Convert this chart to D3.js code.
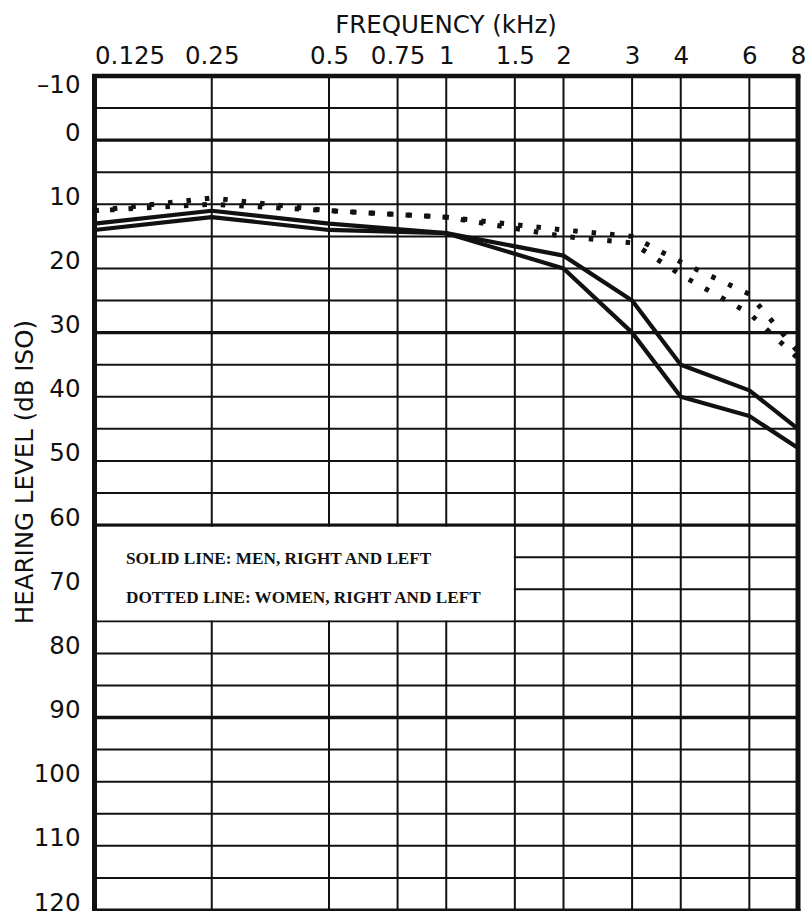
<!DOCTYPE html>
<html>
<head>
<meta charset="utf-8">
<script src="https://cdn.jsdelivr.net/npm/d3@7/dist/d3.min.js"></script>
<style>
  html, body { margin: 0; padding: 0; background: #fff; }
  svg { display: block; }
</style>
</head>
<body>
<svg id="chart" width="809" height="911"></svg>
<script>
// ---- data ----
const freqs = [0.125, 0.25, 0.5, 1, 2, 3, 4, 6, 8];
const menUpper = [13, 11, 13, 14.5, 18, 25, 35, 39, 45];
const menLower = [14, 12, 14, 14.5, 20, 30, 40, 43, 48];
const womenUpper = [11, 9, 11, 12, 14, 15, 19, 24, 33];
const womenLower = [11, 10, 11, 12, 15, 16, 21, 27, 34];

const freqTicks = [0.125, 0.25, 0.5, 0.75, 1, 1.5, 2, 3, 4, 6, 8];
const freqTickLabels = ["0.125", "0.25", "0.5", "0.75", "1", "1.5", "2", "3", "4", "6", "8"];
const levelTicks = [-10, 0, 10, 20, 30, 40, 50, 60, 70, 80, 90, 100, 110, 120];
const levelTickLabels = ["\u201310", "0", "10", "20", "30", "40", "50", "60", "70", "80", "90", "100", "110", "120"];
const majorLevels = [0, 30, 60, 90];
const xTitle = "FREQUENCY (kHz)";
const yTitle = "HEARING LEVEL (dB ISO)";
const legendLines = ["SOLID LINE: MEN, RIGHT AND LEFT", "DOTTED LINE: WOMEN, RIGHT AND LEFT"];

(function () {
// ---- layout ----
const svg = d3.select("#chart");
const pLeft = 94.5, pRight = 798, pTop = 76, pBottom = 910;
const x = d3.scaleLog().base(2).domain([0.125, 8]).range([pLeft, pRight]);
const y = d3.scaleLinear().domain([-10, 120]).range([pTop, pBottom]);
const ink = "#111";
const sans = "'DejaVu Sans', sans-serif";

svg.append("rect").attr("width", 809).attr("height", 911).attr("fill", "#fff");

const grid = svg.append("g");
const hLevels = d3.range(-5, 120, 5);
grid.selectAll("line.h").data(hLevels).enter().append("line")
  .attr("x1", pLeft).attr("x2", pRight)
  .attr("y1", d => y(d)).attr("y2", d => y(d))
  .attr("stroke", ink)
  .attr("stroke-width", d => majorLevels.includes(d) ? 3.4 : 2);
const vFreqs = freqTicks.filter(f => f > 0.125 && f < 8);
grid.selectAll("line.v").data(vFreqs).enter().append("line")
  .attr("x1", d => x(d)).attr("x2", d => x(d))
  .attr("y1", pTop).attr("y2", pBottom)
  .attr("stroke", ink).attr("stroke-width", 2);

// legend box (white, hides the grid)
const legendBox = svg.append("g");
legendBox.append("rect")
  .attr("x", pLeft + 1)
  .attr("y", y(60) + 1.8)
  .attr("width", x(1.5) - pLeft - 2)
  .attr("height", y(75) - y(60) - 2.8)
  .attr("fill", "#fff");
legendBox.selectAll("text").data(legendLines).enter().append("text")
  .attr("x", 126)
  .attr("y", (d, i) => i === 0 ? 563.5 : 602.5)
  .attr("font-family", "'Liberation Serif', 'Times New Roman', serif")
  .attr("font-weight", "bold")
  .attr("font-size", 17.2)
  .attr("fill", ink)
  .text(d => d);

// border
svg.append("line").attr("x1", pLeft - 2.5).attr("x2", pRight + 2.5).attr("y1", pTop).attr("y2", pTop)
  .attr("stroke", ink).attr("stroke-width", 4.5);
svg.append("line").attr("x1", pLeft - 2.5).attr("x2", pRight + 2.5).attr("y1", pBottom).attr("y2", pBottom)
  .attr("stroke", ink).attr("stroke-width", 3);
svg.append("line").attr("x1", pLeft).attr("x2", pLeft).attr("y1", pTop).attr("y2", pBottom + 2)
  .attr("stroke", ink).attr("stroke-width", 5);
svg.append("line").attr("x1", pRight).attr("x2", pRight).attr("y1", pTop).attr("y2", pBottom + 2)
  .attr("stroke", ink).attr("stroke-width", 5);

// ---- data lines ----
const pts = vals => freqs.map((f, i) => [f, vals[i]]);
const line = d3.line().x(d => x(d[0])).y(d => y(d[1]));
const lines = svg.append("g");
[menUpper, menLower].forEach(v => {
  lines.append("path").attr("d", line(pts(v)))
    .attr("fill", "none").attr("stroke", ink).attr("stroke-width", 4.2)
    .attr("stroke-linejoin", "round");
});
[womenUpper, womenLower].forEach((v, k) => {
  lines.append("path").attr("d", line(pts(v)))
    .attr("fill", "none").attr("stroke", ink).attr("stroke-width", 5)
    .attr("stroke-dasharray", "4.5 14")
    .attr("stroke-dashoffset", k === 0 ? 0 : 3);
});

// ---- axes ----
const xAxis = svg.append("g").attr("transform", `translate(0,${pTop})`)
  .call(d3.axisTop(x).tickValues(freqTicks).tickSize(0)
    .tickFormat((d, i) => freqTickLabels[i]));
xAxis.select(".domain").remove();
xAxis.selectAll("text")
  .attr("y", -12).attr("dy", 0)
  .attr("font-family", sans).attr("font-size", 24.5).attr("fill", ink)
  .attr("text-anchor", d => d === 0.125 ? "start" : "middle");

const yAxis = svg.append("g").attr("transform", `translate(${pLeft},0)`)
  .call(d3.axisLeft(y).tickValues(levelTicks).tickSize(0)
    .tickFormat((d, i) => levelTickLabels[i]));
yAxis.select(".domain").remove();
yAxis.selectAll("text")
  .attr("x", -14).attr("dy", 0)
  .attr("y", d => d === -10 ? 16 : 0)
  .attr("font-family", sans).attr("font-size", 24.5).attr("fill", ink)
  .attr("text-anchor", "end");

// titles
svg.append("text").attr("x", 446).attr("y", 33)
  .attr("text-anchor", "middle")
  .attr("font-family", sans).attr("font-size", 24.5).attr("fill", ink)
  .text(xTitle);
svg.append("text")
  .attr("transform", "translate(33,320) rotate(-90)")
  .attr("text-anchor", "end")
  .attr("font-family", sans).attr("font-size", 24.5).attr("fill", ink)
  .text(yTitle);
})();
</script>
</body>
</html>
